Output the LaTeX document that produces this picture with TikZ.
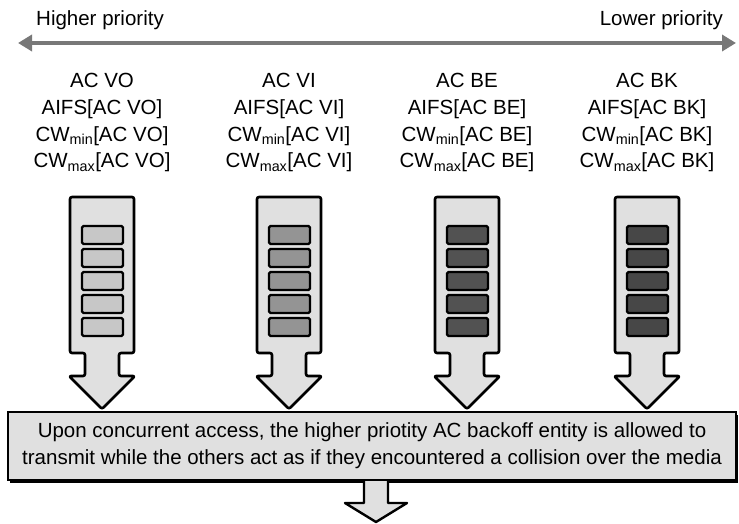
\documentclass[tikz,border=0pt]{standalone}
\usepackage{fontspec}
\setmainfont{Liberation Sans}
\usetikzlibrary{arrows.meta,shadows}

\tikzset{
  blockarrow/.style={draw=black, line width=2.6pt, fill=black!12, line join=round},
  slot/.style={draw=black, line width=2.2pt, rounded corners=1.5pt},
  params/.style={align=center, inner sep=0pt, font=\fontsize{20.5}{26.8}\selectfont},
  prio/.style={inner sep=0pt, font=\fontsize{20.5}{24}\selectfont},
}

\begin{document}
\begin{tikzpicture}[x=1pt, y=-1pt]
\useasboundingbox (0,0) rectangle (739,524);
% priority scale
\coordinate (hi) at (18,43);
\coordinate (lo) at (736,43);
\draw [line width=4pt, black!53, {Triangle[length=14pt,width=16pt]}-{Triangle[length=14pt,width=16pt]}] (hi) -- (lo);
\node (hitxt) [prio, anchor=west] at (36,20) {Higher priority};
\node (lotxt) [prio, anchor=east] at (723,20) {Lower priority};
% access categories
\foreach \c/\ac/\shade [count=\i] in {102/VO/black!22, 289/VI/black!42, 467/BE/black!68, 647/BK/black!72} {
  \draw [blockarrow, rounded corners=2pt] (\c-32,197) -- (\c+32,197) -- (\c+32,353) -- (\c+17,353) -- (\c+17,376)
    -- (\c+33,376) -- (\c,409) -- (\c-33,376) -- (\c-17,376) -- (\c-17,353) -- (\c-32,353) -- cycle;
  \foreach \k in {0,...,4}
    \draw [slot, fill=\shade] (\c-20,226+23*\k) rectangle (\c+21,244+23*\k);
  \node (ac\i) [params, anchor=north] at (\c,73)
    {AC \ac\\AIFS[AC \ac]\\CW\textsubscript{min}[AC \ac]\\CW\textsubscript{max}[AC \ac]};
}
% contention
\node (media) [draw, line width=2pt, fill=black!12, minimum width=728pt, minimum height=68pt,
  align=center, inner sep=0pt, font=\fontsize{20.5}{27}\selectfont,
  drop shadow={shadow xshift=1.5pt, shadow yshift=-2.5pt, fill=black, opacity=1}] at (372,446)
  {Upon concurrent access, the higher priotity AC backoff entity is allowed to\\
   transmit while the others act as if they encountered a collision over the media};
\coordinate (out) at ([xshift=4pt]media.south);
\draw [blockarrow, line width=2.4pt] (out) ++(-12,0) -- ++(0,22) -- ++(-19,0) -- ++(31,19) -- ++(31,-19) -- ++(-19,0) -- ++(0,-22);
\end{tikzpicture}
\end{document}
